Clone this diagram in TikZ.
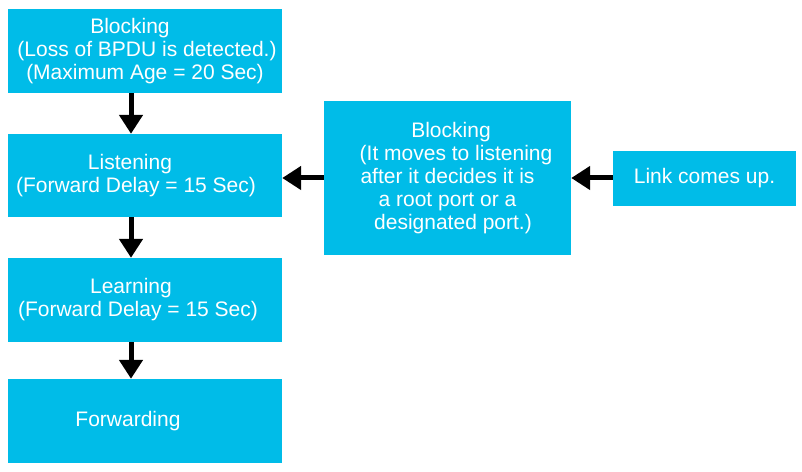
\documentclass[tikz,border=0pt]{standalone}
\usepackage{fontspec}
\setmainfont{Liberation Sans}
\usetikzlibrary{arrows.meta}
\definecolor{stpblue}{RGB}{0,188,232}

\begin{document}
\begin{tikzpicture}[x=1pt,y=1pt,
    state/.style={fill=stpblue, text=white, inner sep=0pt, align=center,
      minimum width=274pt, minimum height=84pt,
      font=\fontsize{21pt}{23pt}\selectfont},
    trans/.style={line width=5pt, -{Triangle[length=19pt,width=23pt]}}
  ]
  \useasboundingbox (0,0) rectangle (802,471);
  % left column
  \node[state] (block1) at (145,420) {Blocking\hspace*{30pt}\\ \hspace*{4pt}(Loss of BPDU is detected.)\\ (Maximum Age = 20 Sec)};
  \node[state, minimum height=83pt] (listen) at (145,295.5) {Listening\hspace*{30pt}\\ (Forward Delay = 15 Sec)\hspace*{18pt}};
  \node[state] (learn) at (145,171) {Learning\hspace*{28pt}\\ (Forward Delay = 15 Sec)\hspace*{14pt}};
  \node[state] (fwd) at (145,50) {Forwarding\hspace*{34pt}};
  % right side
  \node[state, minimum width=247pt, minimum height=154pt] (block2) at (447.5,293)
    {\hspace*{7pt}Blocking\\ \hspace*{17pt}(It moves to listening\\ after it decides it is\\ a root port or a\\ \hspace*{11pt}designated port.)};
  \node[state, minimum width=183pt, minimum height=55pt] (link) at (704.5,292.5) {Link comes up.};
  \draw[trans] ([xshift=-14pt]block1.south) -- ([xshift=-14pt]listen.north);
  \draw[trans] ([xshift=-14pt]listen.south) -- ([xshift=-14pt]learn.north);
  \draw[trans] ([xshift=-14pt]learn.south) -- ([xshift=-14pt]fwd.north);
  \draw[trans] (block2.west) -- (block2.west -| listen.east);
  \draw[trans] (link.west |- block2.west) -- (block2.east);
\end{tikzpicture}
\end{document}
